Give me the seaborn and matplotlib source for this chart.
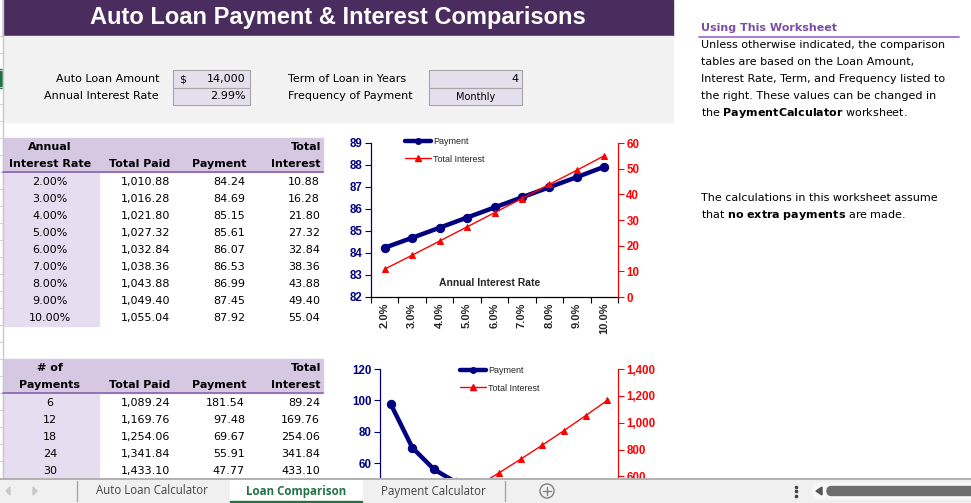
import numpy as np
import seaborn as sns
import matplotlib.pyplot as plt
from matplotlib.patches import Rectangle, FancyBboxPatch, Circle, Polygon
from matplotlib.lines import Line2D

sns.set_theme(style="ticks")
plt.rcParams['font.family'] = ['DejaVu Sans']

W, H = 971, 503

# ---- data read from the worksheet ----
rate_labels = ["2.00%", "3.00%", "4.00%", "5.00%", "6.00%", "7.00%", "8.00%", "9.00%", "10.00%"]
rate_ticks = ["2.0%", "3.0%", "4.0%", "5.0%", "6.0%", "7.0%", "8.0%", "9.0%", "10.0%"]
rate_total_paid = [1010.88, 1016.28, 1021.80, 1027.32, 1032.84, 1038.36, 1043.88, 1049.40, 1055.04]
rate_payment = [84.24, 84.69, 85.15, 85.61, 86.07, 86.53, 86.99, 87.45, 87.92]
rate_interest = [10.88, 16.28, 21.80, 27.32, 32.84, 38.36, 43.88, 49.40, 55.04]

num_payments = [6, 12, 18, 24, 30]
num_total_paid = [1089.24, 1169.76, 1254.06, 1341.84, 1433.10]
num_payment = [181.54, 97.48, 69.67, 55.91, 47.77]
num_interest = [89.24, 169.76, 254.06, 341.84, 433.10]

# second chart series (12 .. 72 payments, lower part hidden by the sheet tabs)
chart2_n = [12, 18, 24, 30, 36, 42, 48, 54, 60, 66, 72]
chart2_payment = [97.48, 69.67, 55.91, 47.77, 42.45, 38.73, 36.01, 33.95, 32.35, 31.09, 30.08]
chart2_interest = [169.76, 254.06, 341.84, 433.10, 528.3, 626.6, 728.3, 833.1, 941.2, 1052.2, 1166.0]

NAVY = "#000080"
RED = "#FF0000"
PURPLE = "#4B2C5E"
HEAD = "#D6C7E3"
LIGHT = "#E6DDF0"
BODY = 8
ARIAL = "Liberation Sans"

fig = plt.figure(figsize=(W / 100, H / 100), dpi=100)
fig.patch.set_facecolor("white")

bg = fig.add_axes([0, 0, 1, 1])
bg.set_xlim(0, W)
bg.set_ylim(H, 0)
bg.axis("off")


def txt(x, y, s, ha="left", size=BODY, weight="normal", color="black", family="DejaVu Sans", ax=bg):
    ax.text(x, y, s, ha=ha, va="center", fontsize=size, fontweight=weight,
            color=color, family=family)


def px_axes(x0, y0, x1, y1):
    return fig.add_axes([x0 / W, 1 - y1 / H, (x1 - x0) / W, (y1 - y0) / H])


# left edge of the sheet
bg.plot([2.5, 2.5], [0, H], color="#C8C8C8", lw=1)
for yy in np.arange(36, 480, 17):
    bg.plot([0, 3], [yy, yy], color="#D0D0D0", lw=0.8)
bg.add_patch(Rectangle((0, 69), 2, 19, color="#217346"))

# title bar and input panel
bg.add_patch(Rectangle((3, 0), 670, 36, color=PURPLE))
txt(338, 17, "Auto Loan Payment & Interest Comparisons", ha="center", size=17,
    weight="bold", color="white", family=ARIAL)
bg.add_patch(Rectangle((3, 36), 670, 86, color="#F2F2F2"))

txt(159, 79, "Auto Loan Amount", ha="right")
txt(159, 96, "Annual Interest Rate", ha="right")
txt(288, 79, "Term of Loan in Years")
txt(288, 96, "Frequency of Payment")
for x0, w in [(173, 77), (429, 93)]:
    for y0 in [70, 87.5]:
        bg.add_patch(Rectangle((x0, y0), w, 17.5, facecolor="#E4DFEC", edgecolor="#A6A6A6", lw=0.8))
txt(179, 79, "$")
txt(245, 79, "14,000", ha="right")
txt(246, 96, "2.99%", ha="right")
txt(519, 79, "4", ha="right")
txt(476, 97, "Monthly", ha="center", size=7)

# right hand notes
txt(701, 28, "Using This Worksheet", weight="bold", color="#7B4FA5")
bg.plot([699, 959], [36.5, 36.5], color="#9966CC", lw=1.2)
notes = ["Unless otherwise indicated, the comparison",
         "tables are based on the Loan Amount,",
         "Interest Rate, Term, and Frequency listed to",
         "the right. These values can be changed in",
         r"the $\mathbf{PaymentCalculator}$ worksheet."]
for i, line in enumerate(notes):
    txt(701, 45 + 17 * i, line)
txt(701, 198, "The calculations in this worksheet assume")
txt(701, 215, r"that $\mathbf{no\ extra\ payments}$ are made.")


# ---- tables ----
def draw_table(top, head1, head2, first_col, paid, pay, intr, n_light):
    bg.add_patch(Rectangle((3, top), 320, 34, color=HEAD))
    bg.plot([3, 323], [top + 34, top + 34], color="#8E6BB0", lw=1.3)
    bg.add_patch(Rectangle((3, top + 34.7), 96, 17 * n_light, color=LIGHT))
    txt(50, top + 9, head1, ha="center", weight="bold")
    txt(50, top + 26, head2, ha="center", weight="bold")
    txt(321, top + 9, "Total", ha="right", weight="bold")
    txt(170, top + 26, "Total Paid", ha="right", weight="bold")
    txt(246, top + 26, "Payment", ha="right", weight="bold")
    txt(321, top + 26, "Interest", ha="right", weight="bold")
    for i in range(len(first_col)):
        y = top + 44 + 17 * i
        txt(50, y, str(first_col[i]), ha="center")
        txt(170, y, f"{paid[i]:,.2f}", ha="right")
        txt(245, y, f"{pay[i]:,.2f}", ha="right")
        txt(320, y, f"{intr[i]:,.2f}", ha="right")


draw_table(138, "Annual", "Interest Rate", rate_labels, rate_total_paid, rate_payment, rate_interest, 9)
draw_table(359, "# of", "Payments", num_payments, num_total_paid, num_payment, num_interest, 6)


# ---- charts ----
def draw_chart(rect, pay, intr, ylim_l, ticks_l, ylim_r, ticks_r, xlabels, leg_xy, title=None):
    ax = px_axes(*rect)
    ax.set_facecolor("none")
    x = np.arange(len(pay))
    sns.lineplot(x=x, y=pay, ax=ax, color=NAVY, linewidth=3.2, marker="o",
                 markersize=6, markeredgecolor=NAVY, legend=False, zorder=3)
    axr = ax.twinx()
    axr.set_facecolor("none")
    sns.lineplot(x=x, y=intr, ax=axr, color=RED, linewidth=1, marker="^",
                 markersize=4.5, markeredgecolor=RED, legend=False, zorder=3)
    ax.set_xlim(-0.5, len(pay) - 0.5)
    ax.set_ylim(*ylim_l)
    axr.set_ylim(*ylim_r)
    ax.set_yticks(ticks_l)
    axr.set_yticks(ticks_r)
    axr.set_yticklabels([f"{v:,.0f}" for v in ticks_r])
    ax.set_xticks(np.arange(-0.5, len(pay), 1))
    ax.set_xticklabels([])
    ax.set_xticks(x, minor=True)
    ax.set_xticklabels(xlabels, minor=True, rotation=90)
    ax.tick_params(axis="x", which="major", length=4, width=0.8, color="black", direction="out")
    ax.tick_params(axis="x", which="minor", length=0, pad=4, labelsize=8)
    ax.tick_params(axis="y", colors=NAVY, length=4, width=0.8, direction="out", labelsize=8.3, pad=2)
    axr.tick_params(axis="y", colors=RED, length=4, width=0.8, direction="out", labelsize=8.3, pad=2)
    for lab in ax.get_xticklabels(minor=True) + ax.get_yticklabels() + axr.get_yticklabels():
        lab.set_fontweight("bold")
        lab.set_family(ARIAL)
    for a in (ax, axr):
        a.spines["top"].set_visible(False)
        a.set_xlabel("")
        a.set_ylabel("")
        a.grid(False)
    ax.spines["right"].set_visible(False)
    axr.spines["left"].set_visible(False)
    axr.spines["bottom"].set_visible(False)
    ax.spines["left"].set_color(NAVY)
    axr.spines["right"].set_color(RED)
    ax.spines["bottom"].set_color("black")
    for s in ("left", "bottom"):
        ax.spines[s].set_linewidth(0.9)
    axr.spines["right"].set_linewidth(0.9)
    if title:
        ax.text(0.48, 0.09, title, transform=ax.transAxes, ha="center", va="center",
                fontsize=7.5, fontweight="bold", family=ARIAL)
    handles = [Line2D([], [], color=NAVY, lw=3.2, marker="o", markersize=4),
               Line2D([], [], color=RED, lw=1, marker="^", markersize=4)]
    axr.legend(handles, ["Payment", "Total Interest"], loc="upper left",
               bbox_to_anchor=(leg_xy[0] / W, 1 - leg_xy[1] / H), bbox_transform=fig.transFigure,
               frameon=False, prop={"family": ARIAL, "size": 6.5}, handlelength=2.9,
               handletextpad=0.2, labelspacing=0.95, borderpad=0, borderaxespad=0)
    return ax, axr


draw_chart((371, 143, 618, 297), rate_payment, rate_interest,
           (82, 89), [82, 83, 84, 85, 86, 87, 88, 89],
           (0, 60), [0, 10, 20, 30, 40, 50, 60],
           rate_ticks, (405, 137), title="Annual Interest Rate")
# the lower half of the second chart sits under the sheet tabs: only the visible ticks are labelled
draw_chart((380, 369, 618, 557), chart2_payment, chart2_interest,
           (0, 120), [60, 80, 100, 120],
           (0, 1400), [600, 800, 1000, 1200, 1400],
           [""] * len(chart2_n), (460, 366))

# ---- sheet tab bar ----
tab = fig.add_axes([0, 0, 1, 25 / H], zorder=10)
tab.set_xlim(0, W)
tab.set_ylim(H, 478)
tab.axis("off")
tab.add_patch(Rectangle((0, 478), W, 25, color="#F0F0F0"))
tab.plot([0, W], [478.6, 478.6], color="#A6A6A6", lw=1.2)
tab.add_patch(Rectangle((230, 479.5), 132, 24, color="white"))
tab.add_patch(Rectangle((230, 500.5), 132, 3, color="#217346"))
for xs in (77, 505):
    tab.plot([xs, xs], [481, 501], color="#A0A0A0", lw=0.9)
tab.add_patch(Polygon([(10, 487), (10, 495), (6, 491)], color="#C8C8C8"))
tab.add_patch(Polygon([(33, 487), (33, 495), (37, 491)], color="#C8C8C8"))
txt(152, 491, "Auto Loan Calculator", ha="center", size=8.3, color="#444444", family="Open Sans", ax=tab)
txt(296, 491, "Loan Comparison", ha="center", size=8.3, weight="bold", color="#217346", family="Open Sans", ax=tab)
txt(433, 491, "Payment Calculator", ha="center", size=8.3, color="#444444", family="Open Sans", ax=tab)
tab.add_patch(Circle((547, 491), 7, fill=False, ec="#808080", lw=1))
tab.plot([543, 551], [491, 491], color="#808080", lw=1)
tab.plot([547, 547], [487, 495], color="#808080", lw=1)
tab.scatter([796, 796, 796], [486.5, 491, 495.5], s=2.5, color="#444444")
tab.add_patch(FancyBboxPatch((812, 483), 170, 16, boxstyle="round,pad=0,rounding_size=8",
                             color="#F8F8F8"))
tab.add_patch(Polygon([(816, 491), (822, 487), (822, 495)], color="#555555"))
tab.add_patch(FancyBboxPatch((827, 486.5), 160, 9, boxstyle="round,pad=0,rounding_size=4.5",
                             color="#6E6E6E"))

fig.savefig("out.png", dpi=100)
